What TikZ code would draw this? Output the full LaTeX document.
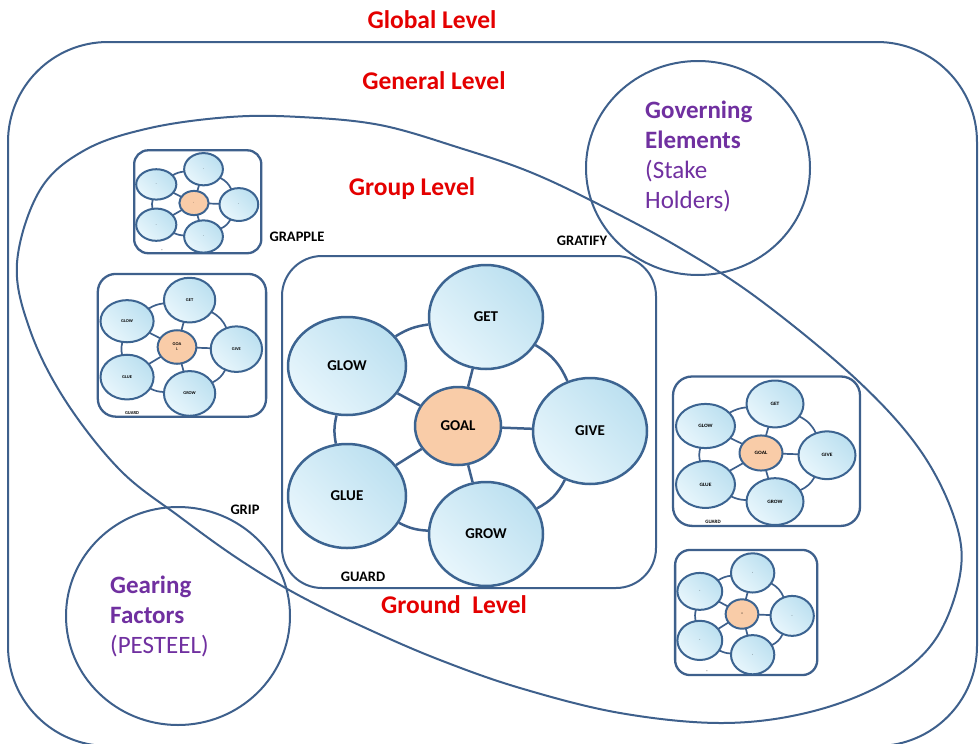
\documentclass[tikz,border=0pt]{standalone}
\usepackage{fontspec}
\setmainfont{Carlito}
\usetikzlibrary{shapes.geometric}
\definecolor{lineblue}{RGB}{62,96,140}
\definecolor{nodeborder}{RGB}{60,100,145}
\definecolor{bluelight}{RGB}{232,246,252}
\definecolor{bluedark}{RGB}{188,224,240}
\definecolor{peach}{RGB}{249,204,168}
\definecolor{lvlred}{RGB}{228,0,0}
\definecolor{govpurple}{RGB}{112,48,160}
\tikzset{
  outline/.style={draw=lineblue, line width=2pt},
  boxline/.style={draw=lineblue, line width=2pt, rounded corners=40pt},
  bub/.style={ellipse, draw=nodeborder, line width=2.5pt, inner sep=0pt, align=center,
    top color=bluedark, bottom color=bluelight, shading angle=-45, transform shape},
  goalbub/.style={ellipse, draw=nodeborder, line width=2.5pt, inner sep=0pt, align=center,
    fill=peach, transform shape},
  link/.style={draw=lineblue, line width=2.5pt},
  lvl/.style={text=lvlred, font=\fontsize{25.5}{28}\selectfont\bfseries, inner sep=0pt},
  tag/.style={text=black, font=\fontsize{14.5}{16}\selectfont\bfseries, inner sep=0pt},
  purp/.style={text=govpurple, font=\fontsize{25}{30}\selectfont, inner sep=0pt, align=left, anchor=west},
  tiny/.style={text=black, inner sep=0pt}
}
% #1 prefix, #2 scope options, #3 GET, #4 GLOW, #5 GOAL, #6 GIVE, #7 GLUE, #8 GROW, #9 font
\newcommand\gcl[9]{%
\begin{scope}[#2]
  \draw[boxline] (-176,-170) rectangle (198,162);
  \node[bub, minimum width=114pt, minimum height=104pt] (#1-get) at (28,-109) {#9#3};
  \node[bub, minimum width=118pt, minimum height=98pt] (#1-glow) at (-111,-60) {#9#4};
  \node[goalbub, minimum width=86pt, minimum height=78pt] (#1-goal) at (0,0) {#9#5};
  \node[bub, minimum width=114pt, minimum height=106pt] (#1-give) at (132,5) {#9#6};
  \node[bub, minimum width=118pt, minimum height=104pt] (#1-glue) at (-111,70) {#9#7};
  \node[bub, minimum width=114pt, minimum height=104pt] (#1-grow) at (28,108) {#9#8};
  \draw[link] (#1-goal) -- (#1-get);
  \draw[link] (#1-goal) -- (#1-glow);
  \draw[link] (#1-goal) -- (#1-give);
  \draw[link] (#1-goal) -- (#1-glue);
  \draw[link] (#1-goal) -- (#1-grow);
  \draw[link] (#1-glow) to[bend left=12] (#1-get);
  \draw[link] (#1-get) to[bend left=18] (#1-give);
  \draw[link] (#1-give) to[bend left=18] (#1-grow);
  \draw[link] (#1-grow) to[bend left=12] (#1-glue);
  \draw[link] (#1-glue) to[bend left=12] (#1-glow);
\end{scope}}
\begin{document}
\begin{tikzpicture}[x=1pt,y=-1pt]
\useasboundingbox (0,0) rectangle (980,744);
\fill[white] (0,0) rectangle (980,744);

% outer global level frame
\draw[outline, rounded corners=100pt] (8,42) rectangle (977,746);

% general level blob
\draw[outline] plot[smooth cycle, tension=0.6] coordinates {
 (17,263) (40,190) (85,150) (150,128) (230,117) (300,117) (380,125) (460,148)
 (530,172) (600,205) (680,248) (760,300) (857,380) (920,450) (955,520) (960,575)
 (935,640) (885,683) (810,712) (723,723) (620,713) (520,688) (440,660) (370,630)
 (300,596) (240,560) (180,517) (120,470) (65,400) (30,330)};

% governing & gearing circles
\draw[outline] (698,168) ellipse [x radius=112pt, y radius=107pt];
\draw[outline] (178,616) ellipse [x radius=112pt, y radius=109pt];

% main cluster
\gcl{m}{shift={(458,426)}}{GET}{GLOW}{GOAL}{GIVE}{GLUE}{GROW}{\fontsize{15}{17}\selectfont\bfseries}

% small clusters
\gcl{a}{shift={(194,203)}, xscale=0.34, yscale=0.31,
  boxline/.append style={line width=2.3pt, rounded corners=14pt},
  bub/.append style={line width=2pt}, goalbub/.append style={line width=2pt},
  link/.append style={line width=1.7pt}}
  {-}{-}{\tiny !}{-}{-}{-}{\fontsize{8}{9}\selectfont\bfseries}
\gcl{b}{shift={(177,347)}, xscale=0.45, yscale=0.43,
  boxline/.append style={line width=2.3pt, rounded corners=18pt},
  bub/.append style={line width=2pt}, goalbub/.append style={line width=2pt},
  link/.append style={line width=1.7pt}}
  {GET}{GLOW}{GOA\\L}{GIVE}{GLUE}{GROW}{\fontsize{10}{10}\selectfont\bfseries}
\gcl{c}{shift={(761,453)}, xscale=0.5, yscale=0.45,
  boxline/.append style={line width=2.3pt, rounded corners=19pt},
  bub/.append style={line width=2pt}, goalbub/.append style={line width=2pt},
  link/.append style={line width=1.7pt}}
  {GET}{GLOW}{GOAL}{GIVE}{GLUE}{GROW}{\fontsize{11}{12}\selectfont\bfseries}
\gcl{d}{shift={(742,614)}, xscale=0.38, yscale=0.377,
  boxline/.append style={line width=2.3pt, rounded corners=15pt},
  bub/.append style={line width=2pt}, goalbub/.append style={line width=2pt},
  link/.append style={line width=1.7pt}}
  {-}{-}{+}{-}{-}{-}{\fontsize{8}{9}\selectfont\bfseries}

% tiny guard labels of small clusters
\node[tiny, font=\fontsize{4.5}{5}\selectfont\bfseries] (bguard) at (132,413) {GUARD};
\node[tiny, font=\fontsize{5}{6}\selectfont\bfseries] (cguard) at (713,522) {GUARD};
\node[tiny, font=\fontsize{4}{5}\selectfont\bfseries] (aguard) at (162,251) {-};
\node[tiny, font=\fontsize{4}{5}\selectfont\bfseries] (dguard) at (707,672) {-};

% level labels
\node[lvl] (global) at (432,20) {Global Level};
\node[lvl] (general) at (434,81) {General Level};
\node[lvl] (group) at (412,189) {Group Level};
\node[lvl] (ground) at (454,605) {Ground\ \ Level};

% G labels
\node[tag] (grapple) at (297,237) {GRAPPLE};
\node[tag] (gratify) at (582,241) {GRATIFY};
\node[tag] (grip) at (245,510) {GRIP};
\node[tag] (guard) at (363,577) {GUARD};

% purple texts
\node[purp] (gov) at (645,156) {\textbf{Governing}\\\textbf{Elements}\\(Stake\\Holders)};
\node[purp] (gear) at (110,616) {\textbf{Gearing}\\\textbf{Factors}\\(PESTEEL)};
\end{tikzpicture}
\end{document}
